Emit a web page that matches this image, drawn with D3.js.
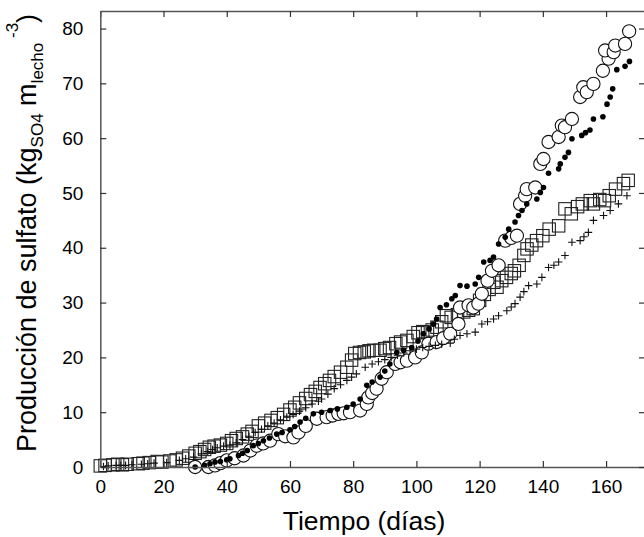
<!DOCTYPE html>
<html>
<head>
<meta charset="utf-8">
<script src="https://cdn.jsdelivr.net/npm/d3@7"></script>
<style>
  body { margin: 0; background: #fff; }
  svg { display: block; font-family: "Liberation Sans", Arial, sans-serif; }
</style>
</head>
<body>
<script>
// Tiempo (días) / producción de sulfato, cuatro series
const circleT = [30, 34.2, 36.3, 38, 40, 42.5, 45.3, 47.5, 49.5, 51.5, 53.7, 56.3, 58.5, 61.1, 62.7, 65, 68.5, 71.6, 73.5, 75.3, 77, 79, 82.2, 84.3, 84.8, 86, 87.4, 89, 90.6, 93.3, 95, 97, 99.6, 101.7, 103.8, 106.4, 108.5, 110.7, 113.3, 113.8, 116.5, 118, 119.6, 120.7, 122.5, 123.9, 126, 128.1, 130, 131.8, 132.8, 134.4, 134.9, 137.6, 139.2, 140.2, 141.8, 145, 146, 147, 149.2, 151.8, 152.8, 153.9, 156, 159, 160.8, 159.7, 162.4, 162.9, 166, 167.3];
const circleV = [0, 0, 0.3, 0.7, 1.2, 1.6, 2.1, 3.0, 3.9, 4.3, 4.8, 6.0, 5.6, 5.4, 6.3, 7.5, 8.8, 9.1, 9.4, 9.7, 9.8, 10.0, 10.3, 11.5, 12.7, 13.5, 14.3, 16.1, 17.3, 18.8, 19.1, 19.4, 20.0, 20.9, 22.5, 22.8, 23.5, 24.3, 26.1, 29.1, 29.5, 29.1, 29.8, 31.6, 34.0, 35.8, 36.8, 41.3, 41.8, 42.2, 48.0, 49.5, 50.7, 51.0, 55.3, 56.2, 59.3, 60.2, 62.3, 62.0, 63.5, 67.5, 69.3, 68.4, 69.9, 72.3, 74.5, 76.0, 75.7, 76.9, 77.2, 79.5];

const dotT = [30, 33, 34.7, 36.3, 38, 40, 41, 43.7, 45, 46.5, 48.4, 50, 51.6, 53.5, 55.8, 57.5, 60, 61.5, 63.2, 65, 67.4, 70, 72.7, 75, 78, 80, 82.2, 84.3, 86, 88.5, 90, 91.6, 93.8, 96, 98.5, 100.5, 102.2, 104, 105.4, 106.4, 107.5, 109.5, 111.2, 112.3, 113.8, 116, 118.6, 119.7, 121.3, 123.3, 124.4, 126, 128.1, 129.2, 131.2, 132.3, 133.4, 134.9, 138.1, 139.2, 140.2, 141.8, 145, 145.5, 147, 148.1, 149.2, 152.3, 153.5, 154.9, 156, 159, 160.3, 161.3, 162.1, 163.4, 166, 167.4];
const dotV = [0, 0.3, 0.6, 0.9, 1.0, 1.3, 1.5, 2.1, 2.5, 3.0, 3.9, 4.3, 4.8, 5.3, 6.0, 6.3, 6.8, 7.4, 8.2, 8.9, 9.7, 10.0, 10.3, 10.6, 10.9, 11.5, 12.4, 14.9, 15.5, 16.4, 17.5, 18.8, 20.9, 21.3, 21.8, 23.0, 24.3, 25.2, 26.1, 27.0, 29.1, 29.6, 30.7, 31.3, 33.1, 33.0, 33.4, 34.6, 37.4, 37.7, 38.3, 40.7, 41.9, 43.4, 44.7, 45.9, 46.8, 48.0, 48.9, 50.1, 51.0, 53.6, 54.4, 55.3, 56.5, 57.4, 59.9, 60.5, 61.0, 61.5, 63.5, 63.9, 66.2, 67.5, 69.0, 72.5, 73.1, 74.0];

const squareT = [0, 1.5, 4, 5.5, 7, 8.5, 12, 13.5, 15.5, 18, 19.5, 22, 24, 26, 28, 30, 31.5, 33, 34.5, 36, 38, 40, 41.5, 43, 45, 46.5, 48, 50, 52, 54, 56, 58, 60, 61.5, 63, 65, 66.5, 68, 69.5, 71, 72.5, 74, 76, 78, 79.5, 80.5, 82, 83.5, 85, 86.5, 88.5, 90, 91.5, 93.5, 95, 97, 99, 100.5, 102, 103.5, 105, 106.5, 108, 109.5, 111, 113, 115, 116.5, 118, 120, 121.5, 123, 124.5, 125.5, 127, 128.5, 130, 131, 132.5, 134, 135, 136.5, 138, 140, 142, 145, 147, 149, 151, 152.5, 155, 156, 158, 159.5, 161, 163, 165.5, 167];
const squareV = [0.2, 0.3, 0.4, 0.5, 0.4, 0.5, 0.6, 0.7, 0.8, 1.0, 0.9, 1.1, 1.3, 1.6, 2.0, 2.5, 2.8, 3.2, 3.6, 3.8, 4.0, 4.3, 4.8, 5.2, 5.5, 6.0, 6.5, 7.5, 8.0, 8.5, 9.0, 9.6, 10.4, 10.9, 11.7, 12.5, 13.2, 13.8, 14.5, 15.2, 15.8, 16.5, 17.3, 18.2, 19.5, 20.7, 20.9, 21.0, 21.2, 21.3, 21.3, 21.6, 21.8, 22.5, 22.8, 23.1, 23.8, 24.5, 24.7, 24.6, 25.0, 25.5, 26.5, 27.6, 27.3, 27.8, 28.3, 28.6, 28.9, 30.4, 31.5, 32.4, 33.7, 32.8, 34.0, 34.6, 35.3, 35.8, 36.8, 38.6, 39.8, 40.5, 41.3, 42.2, 43.4, 44.0, 47.1, 46.2, 47.5, 48.0, 48.6, 48.0, 48.8, 48.6, 49.5, 50.7, 51.7, 52.3];

const plusT = [1, 2.5, 5, 6.5, 8, 10, 13, 15, 17, 21, 25, 27, 29.5, 32, 34, 35.5, 37, 39, 41, 43, 45, 47, 49, 51, 53, 55, 57, 59, 61, 63, 65, 67, 69, 70, 72, 74, 76, 78, 79.5, 81, 83.8, 86, 88, 90, 92, 94, 96, 98, 100, 102, 104, 106, 108, 110.7, 112, 113.8, 116, 118.6, 120.7, 122.5, 124.4, 126, 128.6, 130, 131.2, 132.8, 134, 135.5, 138.1, 139.7, 141.8, 143.5, 145, 147, 149.2, 151.8, 153, 154.4, 156, 159.2, 161.3, 163.9, 166.6];
const plusV = [0.1, 0.2, 0.3, 0.3, 0.3, 0.4, 0.5, 0.6, 0.7, 0.8, 1.2, 1.5, 1.8, 2.4, 2.8, 3.2, 3.5, 3.8, 4.0, 4.4, 5.0, 5.6, 6.3, 6.9, 7.5, 8.0, 8.6, 9.1, 9.6, 10.2, 10.8, 11.5, 12.0, 12.4, 13.3, 14.3, 15.0, 15.8, 16.4, 17.0, 18.2, 18.8, 19.2, 19.6, 20.0, 20.4, 20.8, 21.2, 21.5, 21.8, 22.0, 22.2, 22.4, 22.6, 23.3, 24.0, 24.3, 24.6, 26.1, 26.5, 27.0, 27.6, 28.5, 29.2, 29.8, 31.0, 32.0, 33.1, 33.4, 34.6, 36.4, 36.8, 37.4, 38.6, 41.0, 41.3, 42.0, 42.8, 45.0, 45.9, 46.8, 48.0, 49.5];

const xTicks = [0, 20, 40, 60, 80, 100, 120, 140, 160];
const yTicks = [0, 10, 20, 30, 40, 50, 60, 70, 80];

const width = 644;
const height = 537;
const plotLeft = 100.3, plotRight = 645, plotTop = 11, plotBottom = 467;
const fontFamily = "'Liberation Sans', Arial, sans-serif";

const svg = d3.select("body").append("svg")
  .attr("width", width)
  .attr("height", height);

const x = d3.scaleLinear().domain([0, 172]).range([plotLeft, plotRight - 1]);
const y = d3.scaleLinear().domain([0, 83.2]).range([plotBottom, plotTop]);

const axisColor = "#555";

// points
const zip = (ts, vs) => ts.map((t, i) => ({ t, v: vs[i] }));

svg.append("g")
  .selectAll("rect")
  .data(zip(squareT, squareV))
  .join("rect")
  .attr("x", (d) => x(d.t) - 6.2)
  .attr("y", (d) => y(d.v) - 6.2)
  .attr("width", 12.4)
  .attr("height", 12.4)
  .attr("fill", "none")
  .attr("stroke", "#222")
  .attr("stroke-width", 1.1);

svg.append("g")
  .selectAll("circle")
  .data(zip(circleT, circleV))
  .join("circle")
  .attr("cx", (d) => x(d.t))
  .attr("cy", (d) => y(d.v))
  .attr("r", 6.6)
  .attr("fill", "#fff")
  .attr("stroke", "#111")
  .attr("stroke-width", 1.1);

svg.append("g")
  .selectAll("path")
  .data(zip(plusT, plusV))
  .join("path")
  .attr("d", (d) => {
    const cx = x(d.t), cy = y(d.v), s = 3.8;
    return `M${cx - s},${cy}H${cx + s}M${cx},${cy - s}V${cy + s}`;
  })
  .attr("stroke", "#111")
  .attr("stroke-width", 1.1)
  .attr("fill", "none");

svg.append("g")
  .selectAll("circle")
  .data(zip(dotT, dotV))
  .join("circle")
  .attr("cx", (d) => x(d.t))
  .attr("cy", (d) => y(d.v))
  .attr("r", 2.8)
  .attr("fill", "#000");

// axes, ticks inward
const styleAxis = (g) => {
  g.select(".domain").attr("stroke", axisColor).attr("stroke-width", 1.5);
  g.selectAll(".tick line").attr("stroke", "#333").attr("stroke-width", 1.2);
  g.selectAll("text").attr("fill", "#000").attr("font-size", 19)
    .attr("font-family", fontFamily);
};

svg.append("g")
  .attr("transform", `translate(0,${plotBottom})`)
  .call(d3.axisBottom(x).tickValues(xTicks).tickSizeInner(-6).tickSizeOuter(0).tickPadding(13))
  .call(styleAxis);

svg.append("g")
  .attr("transform", `translate(0,${plotTop})`)
  .call(d3.axisTop(x).tickValues(xTicks).tickSizeInner(-6).tickSizeOuter(0).tickFormat(""))
  .call(styleAxis);

svg.append("g")
  .attr("transform", `translate(${plotLeft},0)`)
  .call(d3.axisLeft(y).tickValues(yTicks).tickSizeInner(-6).tickSizeOuter(0).tickPadding(17))
  .call(styleAxis);

svg.append("g")
  .attr("transform", `translate(${plotRight},0)`)
  .call(d3.axisRight(y).tickValues(yTicks).tickSizeInner(-6).tickSizeOuter(0).tickFormat(""))
  .call(styleAxis);

// titles
svg.append("text")
  .attr("x", 364)
  .attr("y", 530)
  .attr("text-anchor", "middle")
  .attr("font-family", fontFamily)
  .attr("font-size", 26.5)
  .text("Tiempo (días)");

const yLabel = svg.append("text")
  .attr("transform", "translate(36,233) rotate(-90)")
  .attr("text-anchor", "middle")
  .attr("font-family", fontFamily)
  .attr("font-size", 27);
yLabel.append("tspan").text("Producción de sulfato (kg");
yLabel.append("tspan").attr("font-size", 17).attr("dy", 7).text("SO4");
yLabel.append("tspan").attr("dy", -7).text(" m");
yLabel.append("tspan").attr("font-size", 17).attr("dy", 7).text("lecho");
yLabel.append("tspan").attr("font-size", 17).attr("dy", -25).text(" -3");
yLabel.append("tspan").attr("dy", 18).text(")");
</script>
</body>
</html>
